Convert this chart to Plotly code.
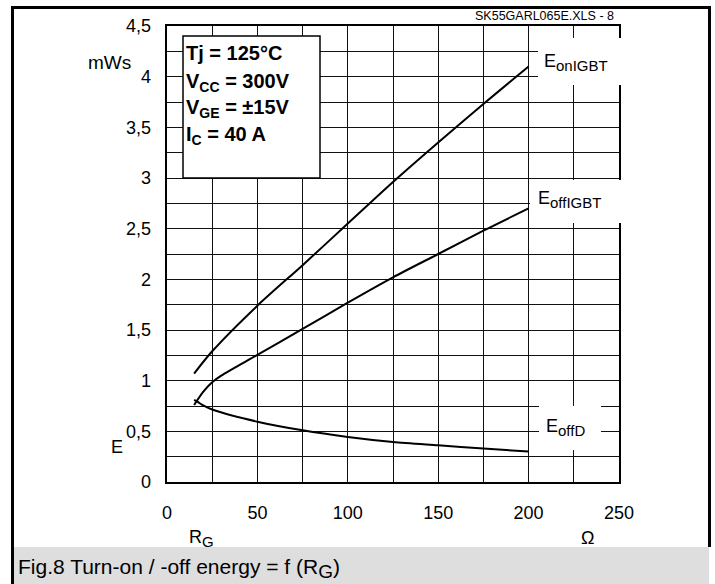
import plotly.graph_objects as go

# ---- data ----
rg_on = [15, 25, 50, 75, 100, 125, 150, 175, 200]
e_on = [1.07, 1.29, 1.74, 2.14, 2.55, 2.96, 3.35, 3.73, 4.10]

rg_off = [15, 20, 25, 30, 50, 75, 100, 125, 150, 175, 200]
e_off = [0.76, 0.89, 0.985, 1.05, 1.255, 1.51, 1.77, 2.02, 2.25, 2.48, 2.70]

rg_d = [15, 17, 20, 25, 50, 75, 100, 125, 150, 175, 200]
e_d = [0.81, 0.79, 0.755, 0.715, 0.595, 0.51, 0.445, 0.395, 0.362, 0.33, 0.30]

x_label_step, x_grid_step = 50, 25
y_label_step, y_grid_step = 0.5, 0.25
cond_lines = ["Tj = 125°C", "V<sub>CC</sub> = 300V", "V<sub>GE</sub> = ±15V", "I<sub>C</sub> = 40 A"]

W, H = 715, 584
L, R, T, B = 167, 96, 26, 102
PW, PH = W - L - R, H - T - B
FONT = "Liberation Sans, Arial, sans-serif"
GRID = "#111111"


def xp(px):
    return (px - L) / PW


def yp(py):
    return (H - B - py) / PH


fig = go.Figure()
# grid subplot (x, y) carries the two turn-off curves, label subplot (x2, y2) the turn-on curve
for xs, ys, xa, ya in [(rg_off, e_off, "x", "y"), (rg_d, e_d, "x", "y"), (rg_on, e_on, "x2", "y2")]:
    fig.add_trace(go.Scatter(x=xs, y=ys, mode="lines", xaxis=xa, yaxis=ya,
                             line=dict(color="black", width=2, shape="spline", smoothing=0.8),
                             showlegend=False, hoverinfo="skip"))

shapes = []
# caption band
shapes.append(dict(type="rect", xref="paper", yref="paper", x0=xp(12), x1=xp(709), y0=yp(547), y1=yp(590),
                   fillcolor="#dedede", line=dict(width=0), layer="above"))
# outer frame lines
for (x0, y0, x1, y1) in [(12.5, 6, 12.5, 590), (11, 7.5, 711, 7.5), (709.5, 6, 709.5, 547)]:
    shapes.append(dict(type="line", xref="paper", yref="paper", x0=xp(x0), x1=xp(x1), y0=yp(y0), y1=yp(y1),
                       line=dict(color="black", width=3), layer="above"))
# conditions box
shapes.append(dict(type="rect", xref="paper", yref="paper", x0=xp(183), x1=xp(320), y0=yp(178), y1=yp(36),
                   fillcolor="white", line=dict(color="black", width=1.5), layer="above"))
# white label backgrounds
for (x0, y0, x1, y1) in [(538, 38, 625, 85), (530, 180, 625, 223), (539, 406, 601, 450)]:
    shapes.append(dict(type="rect", xref="paper", yref="paper", x0=xp(x0), x1=xp(x1), y0=yp(y1), y1=yp(y0),
                       fillcolor="white", line=dict(width=0), layer="above"))

ann = []


def txt(text, x, y, size, xanchor="left", bold=False):
    ann.append(dict(text=("<b>%s</b>" % text) if bold else text, xref="paper", yref="paper",
                    x=xp(x), y=yp(y), xanchor=xanchor, yanchor="middle", showarrow=False,
                    font=dict(family=FONT, size=size, color="black")))


for i, s in enumerate(cond_lines):
    txt(s, 184, [53, 82, 109, 135][i], 20, bold=True)

txt("mWs", 133, 63, 19, xanchor="right")
txt("E", 117, 447, 18, xanchor="center")
txt("R<sub><span style='font-size:15px'>G</span></sub>", 187, 538, 18)
txt("Ω", 587, 538, 18, xanchor="center")
txt("Fig.8 Turn-on / -off energy = f (R<sub><span style='font-size:19px'>G</span></sub>)", 16, 568, 21)
txt("SK55GARL065E.XLS - 8", 616, 16, 12.5, xanchor="right")
txt("E<sub><span style='font-size:15px'>onIGBT</span></sub>", 542, 62, 18)
txt("E<sub><span style='font-size:15px'>offIGBT</span></sub>", 536, 199, 18)
txt("E<sub><span style='font-size:15px'>offD</span></sub>", 544, 427, 18)

grid_axis = dict(showline=True, mirror=True, linecolor="black", linewidth=2,
                 showgrid=True, gridcolor=GRID, gridwidth=1, zeroline=False, ticks="",
                 showticklabels=False, fixedrange=True)
label_axis = dict(showline=False, showgrid=False, zeroline=False, ticks="", fixedrange=True,
                  tickfont=dict(family=FONT, size=18, color="black"))

fig.update_layout(
    width=W, height=H, autosize=False,
    margin=dict(l=L, r=R, t=T, b=B, pad=0),
    paper_bgcolor="white", plot_bgcolor="white",
    separators=",.",
    showlegend=False,
    xaxis=dict(range=[0, 250], tick0=0, dtick=x_grid_step, **grid_axis),
    yaxis=dict(range=[0, 4.5], tick0=0, dtick=y_grid_step, **grid_axis),
    xaxis2=dict(range=[0, 250], tick0=0, dtick=x_label_step, overlaying="x", anchor="y2", side="bottom",
                ticklabelstandoff=18, **label_axis),
    yaxis2=dict(range=[0, 4.5], tick0=0, dtick=y_label_step, overlaying="y", anchor="x2", side="left",
                ticklabelstandoff=15, **label_axis),
    shapes=shapes,
    annotations=ann,
)

fig.write_html("out.html", config={"displayModeBar": False},
               post_script="document.body.style.margin='0';document.body.style.padding='0';")
